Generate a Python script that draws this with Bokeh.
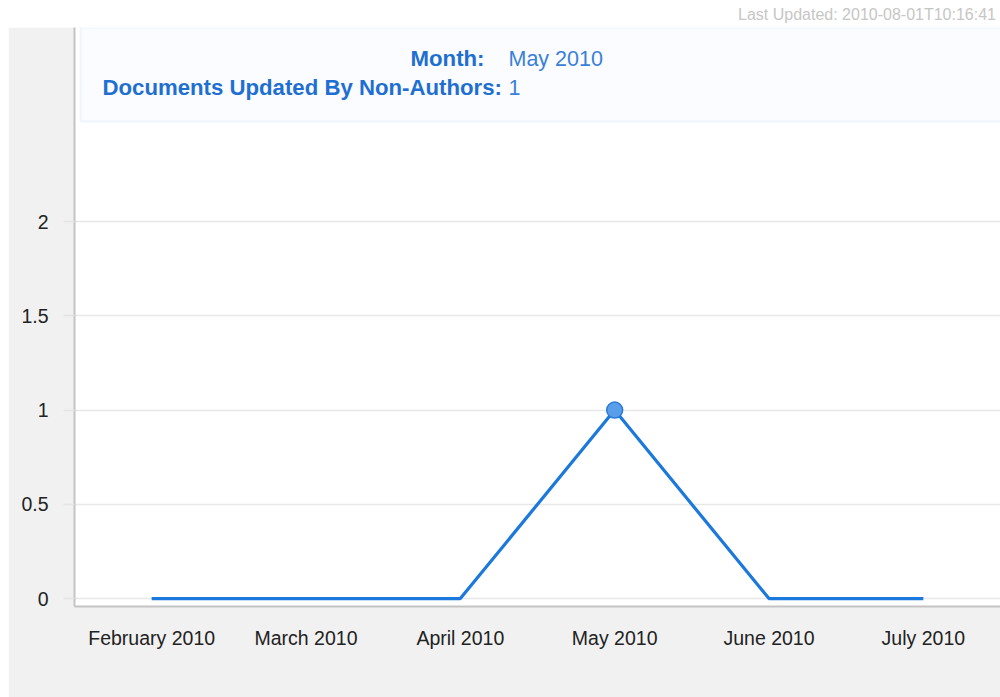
from bokeh.plotting import figure
from bokeh.models import (FactorRange, Range1d, FixedTicker, BoxAnnotation, Label,
                          Div, Column, ColumnDataSource)
from bokeh.embed import file_html
from bokeh.resources import INLINE

# ---------------- data ----------------
months = ["February 2010", "March 2010", "April 2010", "May 2010", "June 2010", "July 2010"]
docs_updated = [0, 0, 0, 1, 0, 0]
yticks = [0, 0.5, 1, 1.5, 2]
ytick_labels = ["0", "0.5", "1", "1.5", "2"]
highlight_index = 3
tooltip_keys = ["Month:", "Documents Updated By Non-Authors:"]
last_updated = "Last Updated: 2010-08-01T10:16:41"

# ---------------- layout constants ----------------
PAGE_W = 1000
TOP_H = 27
LEFT_GAP = 8
FIG_W, FIG_H = PAGE_W - LEFT_GAP, 697 - TOP_H
B_LEFT, B_BOTTOM = 66, 91
FRAME_W = FIG_W - B_LEFT
FRAME_H = FIG_H - B_BOTTOM
Y0, Y1 = -0.042, 3.03
FONT = "Liberation Sans"
BG = "#f1f1f1"
LINE_BLUE = "#1b78dc"
TIP_KEY = "#1f6fd2"
TIP_VAL = "#3a80d8"

def px_x(px):   # pixels from frame left -> synthetic categorical coord
    return px * len(months) / FRAME_W

def px_y(px):   # pixels from frame top -> data y
    return Y1 - px * (Y1 - Y0) / FRAME_H

src = ColumnDataSource(dict(x=months, y=docs_updated))
hl = ColumnDataSource(dict(x=[months[highlight_index]], y=[docs_updated[highlight_index]]))

p = figure(width=FIG_W, height=FIG_H, output_backend="svg", toolbar_location=None,
           x_range=FactorRange(*months), y_range=Range1d(Y0, Y1),
           min_border_left=B_LEFT, min_border_right=0, min_border_top=0,
           min_border_bottom=B_BOTTOM, margin=(0, 0, 0, LEFT_GAP))
p.border_fill_color = BG
p.background_fill_color = "white"
p.outline_line_color = None

# grid
p.xgrid.grid_line_color = None
p.ygrid.grid_line_color = "#e8e8e8"
p.ygrid.grid_line_width = 1.5
p.yaxis.ticker = FixedTicker(ticks=yticks)
p.yaxis.major_label_overrides = {t: l for t, l in zip(yticks, ytick_labels)}

# axes
for ax in (p.xaxis[0], p.yaxis[0]):
    ax.axis_line_color = "#c4c4c4"
    ax.axis_line_width = 2
    ax.minor_tick_line_color = None
    ax.major_label_text_font = FONT
    ax.major_label_text_font_size = "19.5px"
    ax.major_label_text_color = "#222222"
p.yaxis.major_tick_in = 0
p.yaxis.major_tick_out = 11
p.yaxis.major_tick_line_color = "#e4e4e4"
p.yaxis.major_tick_line_width = 1.5
p.yaxis.major_label_standoff = 15
p.xaxis.major_tick_line_color = None
p.xaxis.major_tick_in = 0
p.xaxis.major_tick_out = 0
p.xaxis.major_label_standoff = 20
p.xaxis.major_label_overrides = {months[highlight_index]: ""}

# highlighted x label (hover state)
p.add_layout(Label(x=highlight_index + 0.5, y=px_y(FRAME_H + 20), text=months[highlight_index],
                   text_align="center", text_baseline="top", text_font=FONT,
                   text_font_size="19.5px", text_color="#4a8fe0"))

# series
p.line("x", "y", source=src, line_color=LINE_BLUE, line_width=3.2)
p.scatter("x", "y", source=hl, size=16, fill_color="#5a9de8", line_color="#2b7bd8",
          line_width=1.5)

# tooltip box
p.add_layout(BoxAnnotation(left=px_x(6), right=px_x(FRAME_W + 20), top=Y1, bottom=px_y(94),
                           fill_color="#fafcff", fill_alpha=1.0,
                           line_color="#cfe0f6", line_width=2))
p.add_layout(Label(x=px_x(410), y=px_y(31), text=tooltip_keys[0], text_align="right",
                   text_baseline="middle", text_font=FONT, text_font_style="bold",
                   text_font_size="22.2px", text_color=TIP_KEY))
p.add_layout(Label(x=px_x(434), y=px_y(31), text=months[highlight_index], text_align="left",
                   text_baseline="middle", text_font=FONT,
                   text_font_size="21.5px", text_color=TIP_VAL))
p.add_layout(Label(x=px_x(28), y=px_y(60), text=tooltip_keys[1], text_align="left",
                   text_baseline="middle", text_font=FONT, text_font_style="bold",
                   text_font_size="22.2px", text_color=TIP_KEY))
p.add_layout(Label(x=px_x(434), y=px_y(60), text=str(docs_updated[highlight_index]),
                   text_align="left", text_baseline="middle", text_font=FONT,
                   text_font_size="21.5px", text_color=TIP_VAL))

div = Div(text=last_updated, width=PAGE_W, height=TOP_H, margin=(0, 0, 0, 0),
          styles={"text-align": "right", "color": "#c6c6c6",
                  "font-family": "'Liberation Sans', Arial, sans-serif",
                  "font-size": "16px", "line-height": "16px",
                  "padding-top": "7px", "padding-right": "4px",
                  "box-sizing": "border-box"})

layout = Column(div, p, spacing=0)
open("out.html", "w").write(file_html(layout, INLINE))
